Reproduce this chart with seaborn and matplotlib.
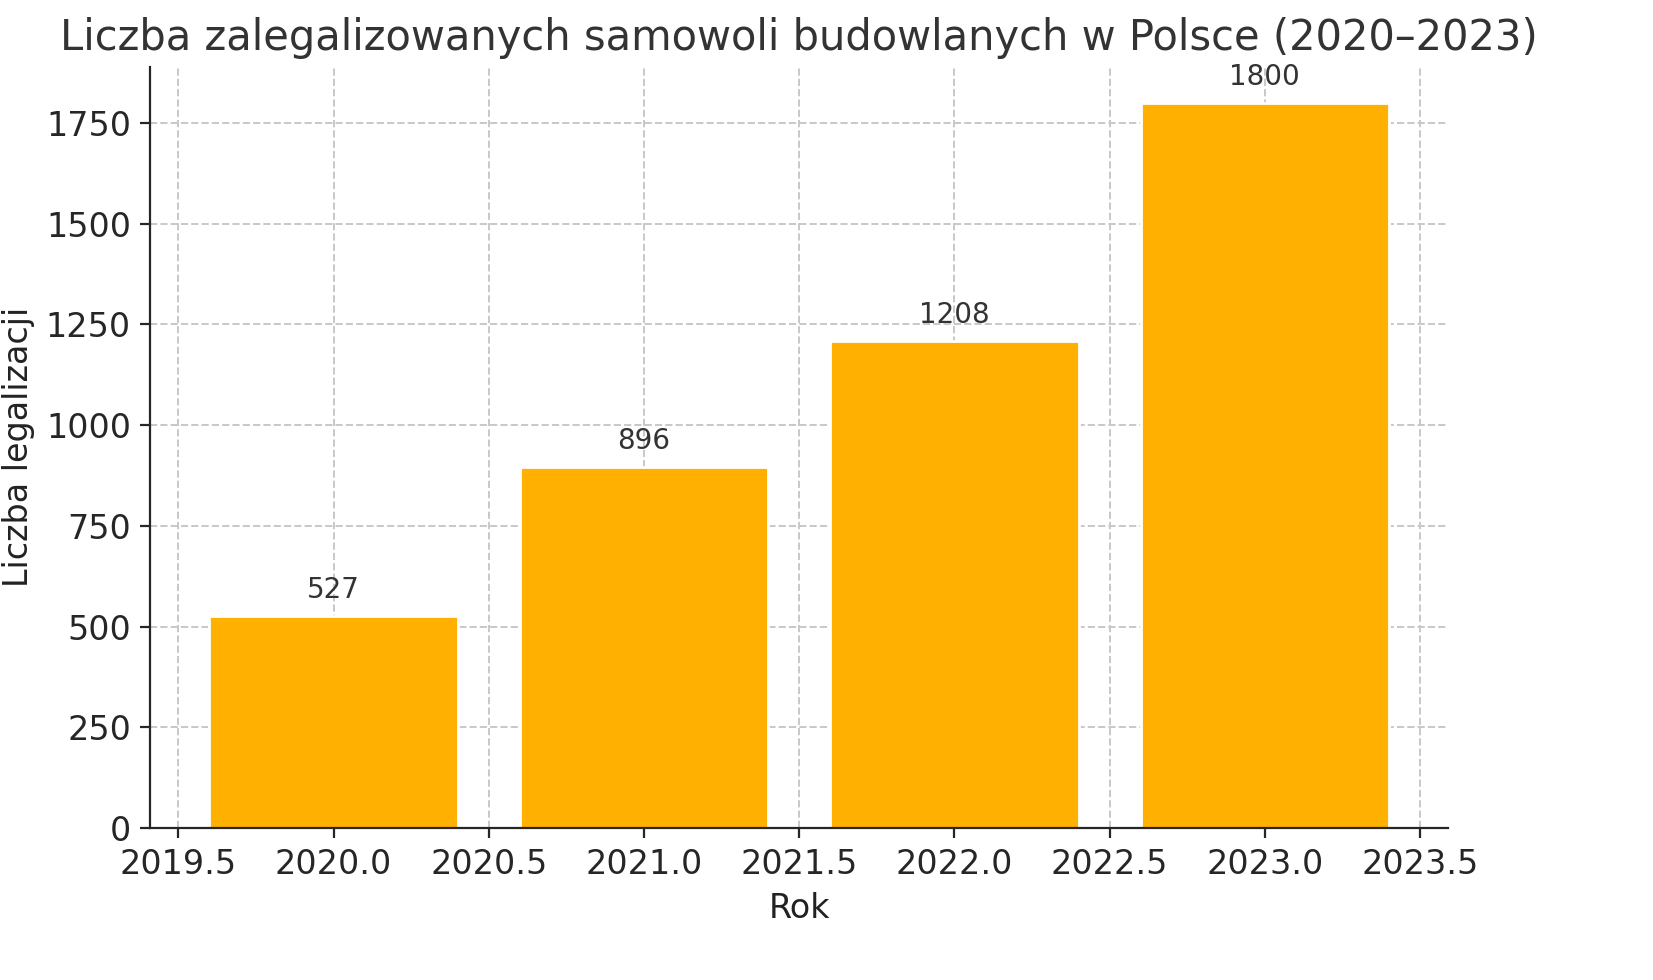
import matplotlib
matplotlib.use("Agg")
import matplotlib.pyplot as plt
import seaborn as sns
import pandas as pd

years = [2020, 2021, 2022, 2023]
counts = [527, 896, 1208, 1800]

sns.set_style("ticks")
plt.rcParams['font.family'] = ['DejaVu Sans']
fig, ax = plt.subplots(figsize=(8.265, 4.9), dpi=200)
fig.subplots_adjust(left=0.091, right=0.876, bottom=0.155, top=0.932)
df = pd.DataFrame({"Rok": years, "Liczba": counts})
sns.barplot(data=df, x="Rok", y="Liczba", native_scale=True, width=0.8,
            color="#FFB000", saturation=1, ax=ax, zorder=2)
ax.set_xlim(2019.41, 2023.59)
ax.set_ylim(0, 1890)
ax.set_xticks([2019.5, 2020, 2020.5, 2021, 2021.5, 2022, 2022.5, 2023, 2023.5])
ax.set_xticklabels([f"{t:.1f}" for t in ax.get_xticks()])
ax.grid(True, linestyle="--", color="#c8c8c8", linewidth=0.7, zorder=0)
ax.set_axisbelow(True)
for y, c in zip(years, counts):
    ax.text(y, c + 30, str(c), ha="center", va="bottom", fontsize=10, color="#333333")
ax.set_title("Liczba zalegalizowanych samowoli budowlanych w Polsce (2020–2023)", fontsize=15, color="#333333")
ax.set_xlabel("Rok", fontsize=12, color="#222222")
ax.set_ylabel("Liczba legalizacji", fontsize=12, color="#222222")
ax.tick_params(labelsize=12)
sns.despine(ax=ax)
fig.savefig("out.png", dpi=200)
